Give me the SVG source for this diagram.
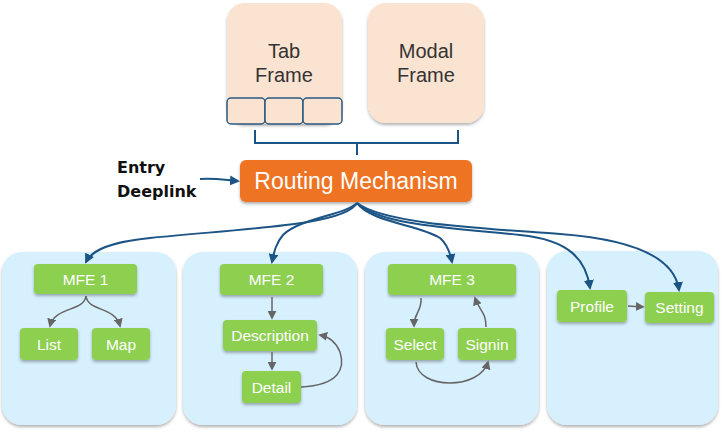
<svg xmlns="http://www.w3.org/2000/svg" width="724" height="432" viewBox="0 0 724 432">
<defs>
<filter id="sh" x="-20%" y="-20%" width="140%" height="150%">
<feDropShadow dx="0" dy="2" stdDeviation="1.5" flood-color="#000" flood-opacity="0.3"/>
</filter>
<marker id="ag" viewBox="0 0 10 10" refX="8" refY="5" markerWidth="9" markerHeight="9" orient="auto" markerUnits="userSpaceOnUse">
<path d="M0,0 L10,5 L0,10 z" fill="#666"/>
</marker>
<marker id="ab2" viewBox="0 0 10 10" refX="8" refY="5" markerWidth="10" markerHeight="10" orient="auto" markerUnits="userSpaceOnUse">
<path d="M0,0 L10,5 L0,10 z" fill="#1C5485"/>
</marker>
</defs>
<style>
.panel{fill:#D7F0FD;filter:url(#sh)}
.frame{fill:#FBE3D2;filter:url(#sh)}
.tab{fill:#FBE3D2;stroke:#2A5A80;stroke-width:1.5}
.g{fill:#8DCF4F;filter:url(#sh)}
.gt{font-family:"Liberation Sans",Arial,sans-serif;font-size:15.5px;fill:#fff;text-anchor:middle}
.ft{font-family:"Liberation Sans",Arial,sans-serif;font-size:20px;fill:#333;text-anchor:middle}
.blue{fill:none;stroke:#1C5485;stroke-width:2;marker-end:url(#ab2)}
.gray{fill:none;stroke:#666;stroke-width:1.5;marker-end:url(#ag)}
</style>
<g id="tab-frame">
<rect class="frame" x="227" y="3" width="115" height="121" rx="18"/>
<text class="ft" x="284" y="58">Tab</text>
<text class="ft" x="284" y="82">Frame</text>
<rect class="tab" x="227" y="98" width="38" height="26" rx="4"/>
<rect class="tab" x="265" y="98" width="38" height="26" rx="4"/>
<rect class="tab" x="303" y="98" width="39" height="26" rx="4"/>
</g>
<g id="modal-frame">
<rect class="frame" x="368" y="3" width="116" height="120" rx="18"/>
<text class="ft" x="426" y="58">Modal</text>
<text class="ft" x="426" y="82">Frame</text>
</g>
<g id="routing">
<rect x="240" y="160" width="232" height="42" rx="6" fill="#EE7323" filter="url(#sh)"/>
<text x="356" y="189" font-family="Liberation Sans,Arial,sans-serif" font-size="23" fill="#fff" text-anchor="middle">Routing Mechanism</text>
</g>
<g id="entry">
<text x="117" y="173" font-family="DejaVu Sans,sans-serif" font-weight="bold" font-size="16" fill="#111">Entry</text>
<text x="117" y="197" font-family="DejaVu Sans,sans-serif" font-weight="bold" font-size="16" fill="#111">Deeplink</text>
</g>
<g id="panel1"><rect class="panel" x="2" y="252" width="174" height="173" rx="20"/></g>
<g id="panel2"><rect class="panel" x="183" y="252" width="174" height="173" rx="20"/></g>
<g id="panel3"><rect class="panel" x="365" y="252" width="174" height="173" rx="20"/></g>
<g id="panel4"><rect class="panel" x="547" y="251" width="171" height="174" rx="20"/></g>
<g id="mfe1"><rect class="g" x="34" y="264" width="103" height="30" rx="4"/><text class="gt" x="85.5" y="284.5">MFE 1</text></g>
<g id="list"><rect class="g" x="20" y="328" width="58" height="32" rx="4"/><text class="gt" x="49" y="349.5">List</text></g>
<g id="map"><rect class="g" x="92" y="328" width="58" height="32" rx="4"/><text class="gt" x="121" y="349.5">Map</text></g>
<g id="mfe2"><rect class="g" x="220" y="264" width="103" height="31" rx="4"/><text class="gt" x="271.5" y="285">MFE 2</text></g>
<g id="description"><rect class="g" x="223" y="320" width="94" height="31" rx="4"/><text class="gt" x="270" y="341">Description</text></g>
<g id="detail"><rect class="g" x="242" y="371" width="59" height="32" rx="4"/><text class="gt" x="271.5" y="392.5">Detail</text></g>
<g id="mfe3"><rect class="g" x="388" y="264" width="128" height="31" rx="4"/><text class="gt" x="452" y="285">MFE 3</text></g>
<g id="select"><rect class="g" x="386" y="328" width="58" height="32" rx="4"/><text class="gt" x="415" y="349.5">Select</text></g>
<g id="signin"><rect class="g" x="458" y="328" width="58" height="32" rx="4"/><text class="gt" x="487" y="349.5">Signin</text></g>
<g id="profile"><rect class="g" x="557" y="290" width="70" height="32" rx="4"/><text class="gt" x="592" y="311.5">Profile</text></g>
<g id="setting"><rect class="g" x="645" y="292" width="69" height="31" rx="4"/><text class="gt" x="679.5" y="313">Setting</text></g>
<g id="connectors">
<path d="M255,130 V143 H458 V130 M357,143 V155" fill="none" stroke="#1C5485" stroke-width="2"/>
<path class="blue" d="M200,179 C215,178 225,180 238,181"/>
<path class="blue" d="M357,203 C345,225 250,228 150,238 C110,242 92,250 86,262"/>
<path class="blue" d="M357,203 C345,215 300,218 283,235 C276,243 274,252 272,262"/>
<path class="blue" d="M357,203 C370,222 420,225 440,238 C447,244 450,252 452,262"/>
<path class="blue" d="M357,203 C380,225 450,228 520,235 C570,240 586,260 590,288"/>
<path class="blue" d="M357,203 C385,224 480,228 560,234 C640,240 675,260 679,290"/>
<path class="gray" d="M86,296 C84,312 55,306 50,326"/>
<path class="gray" d="M86,296 C88,312 115,306 120,326"/>
<path class="gray" d="M272,297 V318"/>
<path class="gray" d="M272,352 V369"/>
<path class="gray" d="M301,387 C340,385 345,368 340,352 C336,342 330,337 320,335"/>
<path class="gray" d="M421,298 C422,312 414,312 414,326"/>
<path class="gray" d="M486,327 C486,312 480,312 475,298"/>
<path class="gray" d="M416,362 C418,390 480,390 488,362"/>
<path class="gray" d="M628,306 L643,307"/>
</g>
</svg>
